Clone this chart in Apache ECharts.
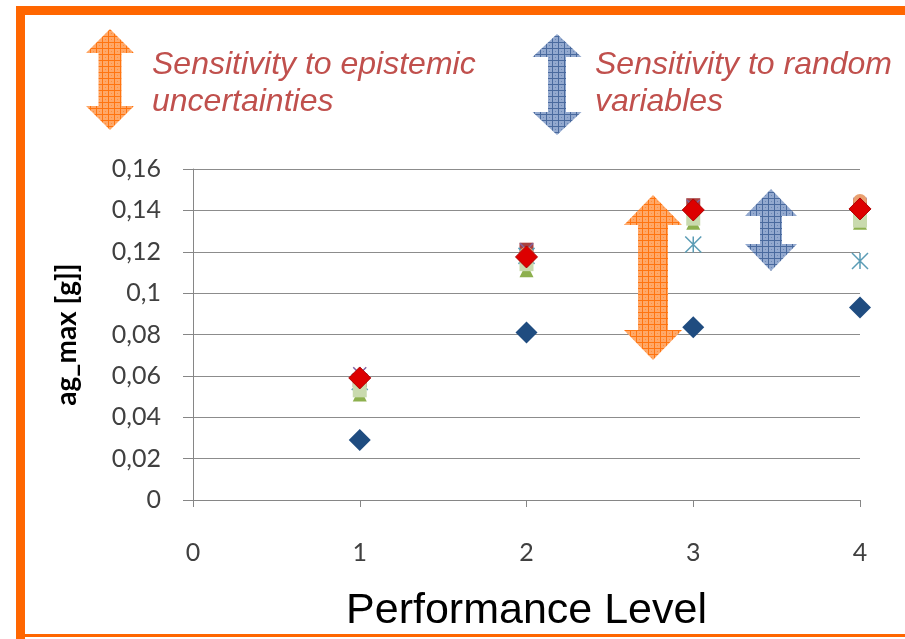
<!DOCTYPE html>
<html>
<head>
<meta charset="utf-8">
<script src="https://cdn.jsdelivr.net/npm/echarts@6/dist/echarts.min.js"></script>
<style>
html,body{margin:0;padding:0;background:#fff;}
#chart{width:905px;height:639px;}
</style>
</head>
<body>
<div id="chart"></div>
<script>
// ---- data ----
const levels = [1, 2, 3, 4];
const xTicks = [0, 1, 2, 3, 4];
const yTicks = ['0', '0,02', '0,04', '0,06', '0,08', '0,1', '0,12', '0,14', '0,16'];
const blueDiamond   = [0.029, 0.081, 0.0835, 0.093];
const redSquare     = [0.058, 0.121, 0.1425, 0.142];
const greenTriangle = [0.051, 0.111, 0.134, 0.134];
const purpleX       = [0.061, 0.121, 0.142, 0.143];
const aquaStar      = [0.057, 0.118, 0.1235, 0.1155];
const orangeCircle  = [0.057, 0.119, 0.139, 0.1445];
const lightGreen    = [0.053, 0.114, 0.136, 0.135];
const redDiamond    = [0.059, 0.1175, 0.1402, 0.1407];
const xTitle = 'Performance Level';
const yTitle = 'ag_max [g]]';
const noteEpistemic = ['Sensitivity to epistemic', 'uncertainties'];
const noteRandom = ['Sensitivity to random', 'variables'];

function pts(vals) { return levels.map((x, i) => [x, vals[i]]); }

function makePattern(base, line) {
  const c = document.createElement('canvas');
  c.width = 6; c.height = 6;
  const g = c.getContext('2d');
  g.fillStyle = base; g.fillRect(0, 0, 6, 6);
  g.fillStyle = line;
  g.fillRect(0, 0, 6, 1);
  g.fillRect(0, 0, 1, 6);
  g.globalAlpha = 0.5;
  g.fillRect(3, 3, 1, 1);
  return { image: c, repeat: 'repeat' };
}
const orangeFill = makePattern('#FFA868', '#FF7410');
const blueFill = makePattern('#93A9CF', '#4A6A9E');

function arrow(cx, top, bottom, headW, shaftW, headH, fill) {
  const hw = headW / 2, sw = shaftW / 2;
  return {
    type: 'polygon',
    shape: { points: [
      [cx, top], [cx + hw, top + headH], [cx + sw, top + headH],
      [cx + sw, bottom - headH], [cx + hw, bottom - headH], [cx, bottom],
      [cx - hw, bottom - headH], [cx - sw, bottom - headH],
      [cx - sw, top + headH], [cx - hw, top + headH]
    ] },
    style: { fill: fill },
    z: 100
  };
}

function note(x, y, t) {
  return { type: 'text', x: x, y: y, z: 100,
    style: { text: t, font: 'italic 32px "Liberation Sans", Arial, sans-serif',
      fill: '#C0504D', textVerticalAlign: 'middle' } };
}

const chart = echarts.init(document.getElementById('chart'), null, { renderer: 'canvas' });

const labelFont = { fontFamily: 'Lato', fontSize: 25, color: '#404040' };

function sc(name, vals, symbol, size, color, extra) {
  const s = Object.assign({
    name: name, type: 'scatter', data: pts(vals), symbol: symbol, symbolSize: size,
    itemStyle: { color: color }, animation: false
  }, extra || {});
  s.itemStyle.opacity = 1;
  return s;
}

chart.setOption({
  backgroundColor: '#ffffff',
  animation: false,
  grid: { left: 193, right: 45, top: 169, bottom: 139, containLabel: false },
  xAxis: {
    type: 'value', min: 0, max: 4, interval: 1,
    name: xTitle, nameLocation: 'middle', nameGap: 90,
    nameTextStyle: { fontFamily: '"Liberation Sans", Arial, sans-serif', fontSize: 43, color: '#000' },
    axisLine: { show: true, lineStyle: { color: '#868686', width: 1 } },
    axisTick: { show: true, length: 7, lineStyle: { color: '#868686' } },
    axisLabel: Object.assign({ margin: 40, formatter: v => String(v) }, labelFont),
    splitLine: { show: false }
  },
  yAxis: {
    type: 'value', min: 0, max: 0.16, interval: 0.02,
    name: yTitle, nameLocation: 'middle', nameGap: 112,
    nameTextStyle: { fontFamily: 'Lato', fontWeight: 'bold', fontSize: 28, color: '#000' },
    axisLine: { show: true, lineStyle: { color: '#868686', width: 1 } },
    axisTick: { show: true, length: 10, lineStyle: { color: '#868686' } },
    axisLabel: Object.assign({ margin: 32, formatter: (v) => yTicks[Math.round(v / 0.02)] }, labelFont),
    splitLine: { show: true, lineStyle: { color: '#8C8C8C', width: 1.2 } }
  },
  series: [
    sc('S1', blueDiamond, 'diamond', 22, '#1F4C80'),
    sc('S2', redSquare, 'rect', 14, '#A8413F'),
    sc('S3', greenTriangle, 'triangle', 14, '#8DB04E'),
    sc('S4', purpleX, 'path://M0,0L10,10M10,0L0,10', 13, 'transparent',
       { itemStyle: { color: 'transparent', borderColor: '#8064A2', borderWidth: 1.5 } }),
    sc('S5', aquaStar, 'path://M0,0L10,10M10,0L0,10M5,0L5,10', 16, 'transparent',
       { itemStyle: { color: 'transparent', borderColor: '#5A9CB5', borderWidth: 1.5 } }),
    sc('S6', orangeCircle, 'circle', 14, '#E9A070'),
    sc('S7', lightGreen, 'rect', 14, '#C9DAAE'),
    sc('S8', redDiamond, 'diamond', 22, '#DD0000',
       { itemStyle: { color: '#DD0000', borderColor: '#B00000', borderWidth: 1 } })
  ],
  graphic: [
    { type: 'rect', shape: { x: 16, y: 6, width: 889, height: 9 }, style: { fill: '#FF6600' }, z: 100 },
    { type: 'rect', shape: { x: 16, y: 6, width: 9, height: 633 }, style: { fill: '#FF6600' }, z: 100 },
    { type: 'rect', shape: { x: 16, y: 634, width: 889, height: 3 }, style: { fill: '#FF6600' }, z: 100 },
    arrow(110, 29, 130, 48, 23, 24, orangeFill),
    arrow(557, 34, 135, 49, 18, 23, blueFill),
    arrow(653, 195, 360, 58, 30, 30, orangeFill),
    arrow(771, 189, 271, 52, 22, 27, blueFill),
    note(152, 65, noteEpistemic[0]),
    note(152, 102, noteEpistemic[1]),
    note(595, 65, noteRandom[0]),
    note(595, 102, noteRandom[1])
  ]
});
</script>
</body>
</html>
